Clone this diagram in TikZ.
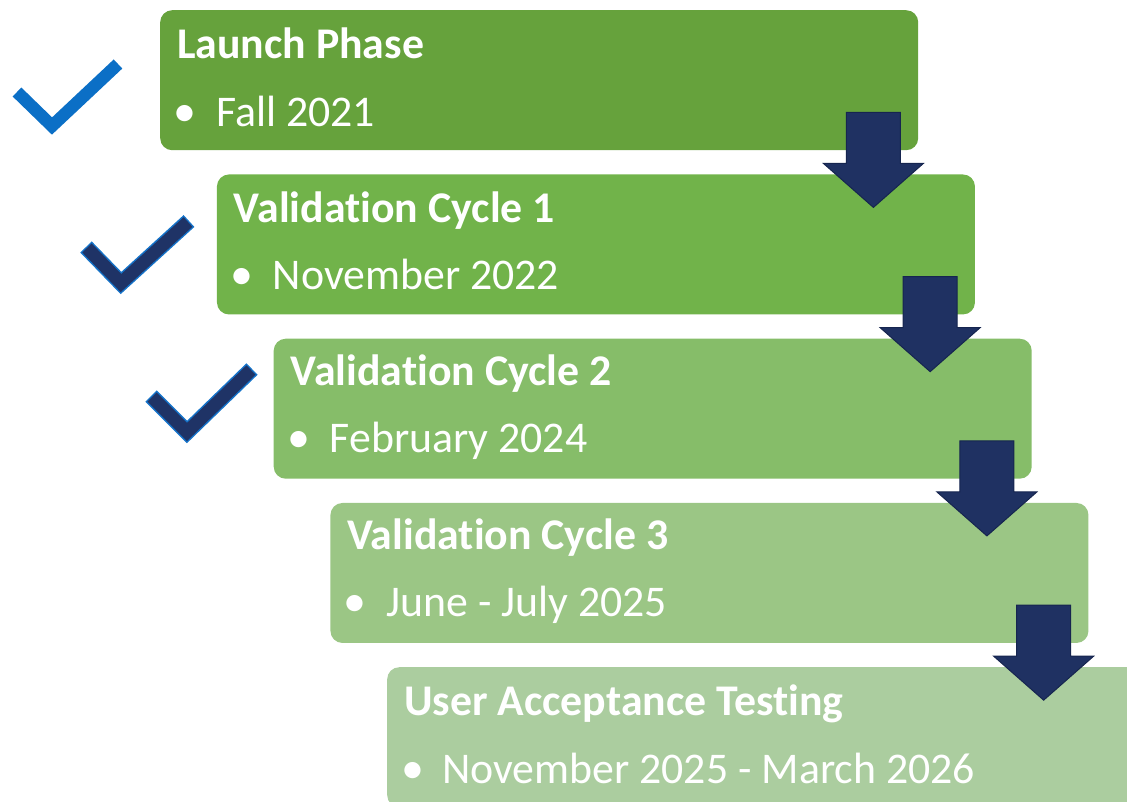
\documentclass[tikz,border=0pt]{standalone}
\usepackage{fontspec}
\setmainfont{Carlito}[Ligatures=NoCommon]
\usetikzlibrary{calc}

% stage fills, darkest to lightest
\definecolor{stageA}{HTML}{66A23C}
\definecolor{stageB}{HTML}{71B34A}
\definecolor{stageC}{HTML}{86BD69}
\definecolor{stageD}{HTML}{9BC685}
\definecolor{stageE}{HTML}{ABCD9F}
% block arrows and check marks
\definecolor{arrownavy}{HTML}{1F3162}
\definecolor{arrowedge}{HTML}{16254F}
\definecolor{checkblue}{HTML}{0B6FC6}
\definecolor{checknavy}{HTML}{1F3366}
\definecolor{checkedge}{HTML}{1573C9}

\begin{document}
\begin{tikzpicture}[x=1pt,y=-1pt,
  stagebox/.style={rounded corners=12pt, minimum width=758pt, minimum height=140pt,
    inner sep=0pt, anchor=north west, draw=none},
  stagetitle/.style={anchor=base west, inner sep=0pt, text=white,
    font=\fontsize{43.8}{52}\selectfont\bfseries},
  stageitem/.style={anchor=base west, inner sep=0pt, text=white,
    font=\fontsize{43.8}{52}\selectfont},
  stagedot/.style={anchor=base, inner sep=0pt, text=white,
    font=\fontsize{46}{52}\selectfont},
  flowarrow/.style={fill=arrownavy, draw=arrowedge, line width=1pt, line join=miter},
  tick/.style={line cap=butt, line join=miter}
]
\useasboundingbox (0,0) rectangle (1127,801);
\clip (0,0) rectangle (1127,801);

% stage boxes, stepping down and to the right
\node[stagebox, fill=stageA] (b1) at (160,10) {};
\node[stagebox, fill=stageB] (b2) at (216.75,174.25) {};
\node[stagebox, fill=stageC] (b3) at (273.5,338.5) {};
\node[stagebox, fill=stageD] (b4) at (330.25,502.75) {};
\node[stagebox, fill=stageE] (b5) at (387,667) {};

% titles and dated bullet lines
\node[stagetitle] (t1) at ($(b1.north west)+(17,48)$) {Launch Phase};
\node[stagedot]   (d1) at ($(b1.north west)+(25,116)$) {\textbullet};
\node[stageitem]  (i1) at ($(b1.north west)+(56,116)$) {Fall 2021};

\node[stagetitle] (t2) at ($(b2.north west)+(17,48)$) {Validation Cycle 1};
\node[stagedot]   (d2) at ($(b2.north west)+(25,115)$) {\textbullet};
\node[stageitem]  (i2) at ($(b2.north west)+(56,115)$) {November 2022};

\node[stagetitle] (t3) at ($(b3.north west)+(17,47)$) {Validation Cycle 2};
\node[stagedot]   (d3) at ($(b3.north west)+(25,114)$) {\textbullet};
\node[stageitem]  (i3) at ($(b3.north west)+(56,114)$) {February 2024};

\node[stagetitle] (t4) at ($(b4.north west)+(17,47)$) {Validation Cycle 3};
\node[stagedot]   (d4) at ($(b4.north west)+(25,114)$) {\textbullet};
\node[stageitem]  (i4) at ($(b4.north west)+(56,114)$) {June - July 2025};

\node[stagetitle] (t5) at ($(b5.north west)+(17,48)$) {User Acceptance Testing};
\node[stagedot]   (d5) at ($(b5.north west)+(26,116)$) {\textbullet};
\node[stageitem]  (i5) at ($(b5.north west)+(55,116)$) {November 2025 - March 2026};

% block arrows linking each stage to the next
\foreach \a in {1,2,3,4}{
  \coordinate (tip\a) at ($(b\a.south east)+(-45,57)$);
  \filldraw[flowarrow] (tip\a) ++(-27,-95) -- ++(54,0) -- ++(0,51) -- ++(23,0)
    -- (tip\a) -- ++(-50,-44) -- ++(23,0) -- cycle;
}

% check marks beside the completed stages
\draw[tick, draw=checkblue, line width=12.5pt] (17,92) -- (52,126) -- (118,64);
\draw[tick, draw=checkedge, line width=16pt] (86,247) -- (121,283) -- (189,221);
\draw[tick, draw=checknavy, line width=13pt] (87,248) -- (121,283) -- (188,222);
\draw[tick, draw=checkedge, line width=16pt] (151,396) -- (187,432) -- (252,369);
\draw[tick, draw=checknavy, line width=13pt] (152,397) -- (187,432) -- (251,370);
\end{tikzpicture}
\end{document}
